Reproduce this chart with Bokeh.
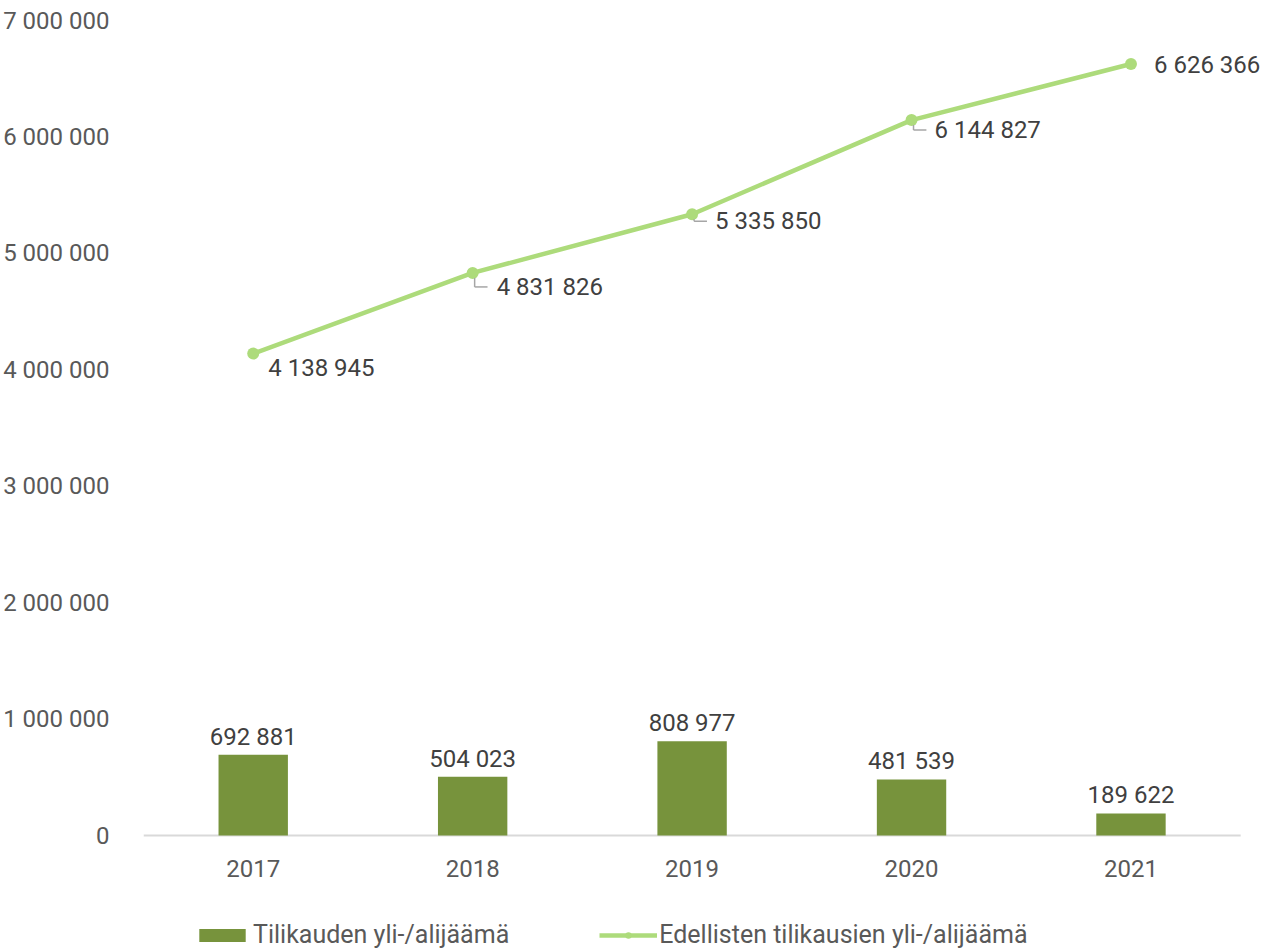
from bokeh.plotting import figure
from bokeh.models import ColumnDataSource, FixedTicker, Legend, LegendItem, Range1d
from bokeh.embed import file_html
from bokeh.resources import INLINE
from bokeh.core.properties import value

# ---- data ----
years = ["2017", "2018", "2019", "2020", "2021"]
period_result = [692881, 504023, 808977, 481539, 189622]
cumulative = [4138945, 4831826, 5335850, 6144827, 6626366]
y_ticks = [0, 1000000, 2000000, 3000000, 4000000, 5000000, 6000000, 7000000]
y_tick_labels = ["0", "1 000 000", "2 000 000", "3 000 000", "4 000 000",
                 "5 000 000", "6 000 000", "7 000 000"]
bar_name = "Tilikauden yli-/alijäämä"
line_name = "Edellisten tilikausien yli-/alijäämä"

# label placement (screen px offsets, +y = down) for line labels
line_lbl_dx = [15, 24, 23, 23, 23]
line_lbl_dy = [14, 14, 7, 10, 1]
leader_on = [False, True, True, True, False]

def fmt(v):
    return f"{v:,}".replace(",", " ")

W, H = 1262, 949
ML, MT = 133, 20
PLOT_W, PLOT_H = 1107, 815      # size of the category / value area in px
EXTRA_R = (W - ML) - PLOT_W     # room right of last category (for labels)
EXTRA_B = (H - MT) - PLOT_H     # room below zero (for year labels + legend)
YMAX = 7000000
n = len(years)
px_x = n / PLOT_W          # data units per px (x)
px_y = YMAX / PLOT_H       # data units per px (y)

xs = [i + 0.5 for i in range(n)]

FONT = "Roboto"
TICK_C = "#595959"
LBL_C = "#404040"
BAR_C = "#77933C"
LINE_C = "#ADDB7B"

p = figure(width=W, height=H, output_backend="svg", toolbar_location=None,
           x_range=Range1d(0, n + EXTRA_R * px_x),
           y_range=Range1d(-EXTRA_B * px_y, YMAX),
           min_border_left=ML, min_border_right=0, min_border_top=MT,
           min_border_bottom=0)
p.outline_line_color = None
p.grid.grid_line_color = None
p.background_fill_color = "white"
p.border_fill_color = "white"

src = ColumnDataSource(dict(x=xs, bar=period_result, cum=cumulative,
                            year=years,
                            bar_lbl=[fmt(v) for v in period_result],
                            cum_lbl=[fmt(v) for v in cumulative],
                            dx=line_lbl_dx, dy=line_lbl_dy))

# category baseline (x axis line)
p.segment(x0=[0], y0=[0], x1=[n], y1=[0], line_color="#D9D9D9", line_width=2)

bars = p.vbar(x="x", top="bar", width=70 * px_x, source=src,
              fill_color=BAR_C, line_color=None)
ln = p.line(x="x", y="cum", source=src, line_color=LINE_C, line_width=4.5)
pts = p.scatter(x="x", y="cum", source=src, size=12, fill_color=LINE_C,
                line_color=None)

# leader lines
lx0, ly0, lx1, ly1 = [], [], [], []
for i in range(n):
    if leader_on[i]:
        xa = xs[i] + 2 * px_x
        ytop = cumulative[i] - 5 * px_y
        ybot = cumulative[i] - line_lbl_dy[i] * px_y
        lx0 += [xa, xa]
        ly0 += [ytop, ybot]
        lx1 += [xa, xs[i] + 15 * px_x]
        ly1 += [ybot, ybot]
p.segment(x0=lx0, y0=ly0, x1=lx1, y1=ly1, line_color="#A6A6A6", line_width=1.5)

p.text(x="x", y="bar", text="bar_lbl", source=src, text_align="center",
       text_baseline="alphabetic", y_offset=-18, text_font=value(FONT),
       text_font_size="24px", text_color=LBL_C)
p.text(x="x", y="cum", text="cum_lbl", source=src, text_align="left",
       text_baseline="middle", x_offset="dx", y_offset="dy",
       text_font=value(FONT), text_font_size="24px", text_color=LBL_C)

# category labels (years)
p.text(x="x", y=0, text="year", source=src, text_align="center",
       text_baseline="middle", y_offset=33, text_font=value(FONT),
       text_font_size="24px", text_color=TICK_C)

# axes
p.xaxis.visible = False

p.yaxis.ticker = FixedTicker(ticks=y_ticks)
p.yaxis.major_label_overrides = {t: l for t, l in zip(y_ticks, y_tick_labels)}
p.yaxis.axis_line_color = None
p.yaxis.major_tick_line_color = None
p.yaxis.minor_tick_line_color = None
p.yaxis.major_label_standoff = 28
p.yaxis.major_label_text_font = FONT
p.yaxis.major_label_text_font_size = "24px"
p.yaxis.major_label_text_color = TICK_C

legend = Legend(items=[LegendItem(label=bar_name, renderers=[bars]),
                       LegendItem(label=line_name, renderers=[ln, pts])],
                orientation="horizontal", location=(50, 0),
                glyph_width=58, glyph_height=16, label_standoff=2,
                spacing=90, padding=0, margin=0,
                label_text_font=FONT, label_text_font_size="25px",
                label_text_color=TICK_C, border_line_color=None,
                background_fill_alpha=0)
p.add_layout(legend, "center")

open("out.html", "w").write(file_html(p, INLINE))
